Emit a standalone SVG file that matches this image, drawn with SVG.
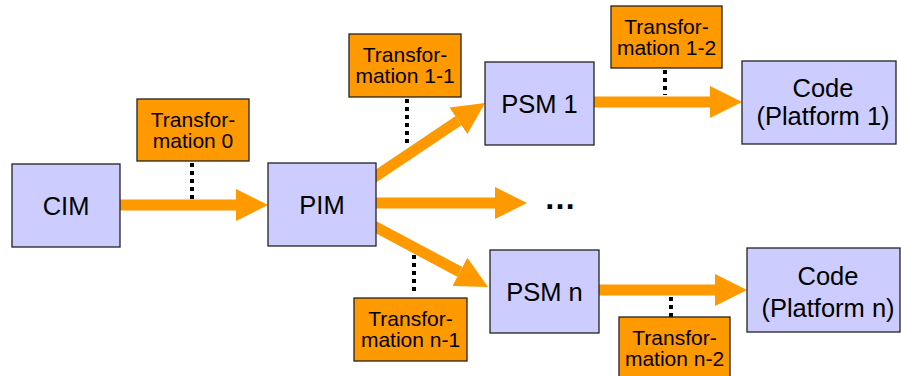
<svg xmlns="http://www.w3.org/2000/svg" width="901" height="376" viewBox="0 0 901 376">
<style>
.node rect{fill:#CCCCFF;stroke:#222;stroke-width:1.3}
.tr rect{fill:#FF9900;stroke:#222;stroke-width:1.3}
text{font-family:"Liberation Sans",Arial,sans-serif;fill:#000;text-anchor:middle}
.node text{font-size:25.5px}
.tr text{font-size:21px}
.arrow{stroke:#FF9900;stroke-width:11;fill:none;marker-end:url(#head)}
.dot{stroke:#000;stroke-width:4;stroke-dasharray:4 4;fill:none}
</style>
<defs>
<marker id="head" markerUnits="userSpaceOnUse" viewBox="0 0 32 32" refX="0" refY="16" markerWidth="32" markerHeight="32" orient="auto">
<polygon points="0,0 32,16 0,32" fill="#FF9900"/>
</marker>
</defs>
<g id="connectors">
<line class="arrow" x1="118" y1="205" x2="236" y2="205"/>
<line class="arrow" x1="370" y1="203" x2="495" y2="203"/>
<line class="arrow" x1="370" y1="180" x2="458.4" y2="120.8"/>
<line class="arrow" x1="370" y1="224" x2="459.8" y2="271.9"/>
<line class="arrow" x1="592" y1="102" x2="710" y2="102"/>
<line class="arrow" x1="597" y1="290" x2="715" y2="290"/>
<line class="dot" x1="192" y1="163" x2="192" y2="199"/>
<line class="dot" x1="407" y1="99" x2="407" y2="143"/>
<line class="dot" x1="665" y1="70" x2="665" y2="95"/>
<line class="dot" x1="414" y1="255" x2="414" y2="291"/>
<line class="dot" x1="671" y1="297" x2="671" y2="317"/>
</g>
<g id="CIM" class="node"><rect x="12" y="164" width="108" height="83"/><text x="66" y="215">CIM</text></g>
<g id="PIM" class="node"><rect x="268" y="163" width="108" height="83"/><text x="322" y="214">PIM</text></g>
<g id="PSM1" class="node"><rect x="485" y="62" width="109" height="83"/><text x="539.5" y="113">PSM 1</text></g>
<g id="PSMn" class="node"><rect x="490" y="250" width="109" height="83"/><text x="544.5" y="301">PSM n</text></g>
<g id="Code1" class="node"><rect x="742" y="61" width="154" height="83"/><text x="823" y="97">Code</text><text x="823" y="125">(Platform 1)</text></g>
<g id="Coden" class="node"><rect x="747" y="248" width="153" height="84"/><text x="828" y="285">Code</text><text x="828" y="317">(Platform n)</text></g>
<g id="T0" class="tr"><rect x="137" y="99" width="112" height="62"/><text x="193" y="127">Transfor-</text><text x="193" y="148">mation 0</text></g>
<g id="T11" class="tr"><rect x="349" y="34" width="112" height="63"/><text x="405" y="62">Transfor-</text><text x="405" y="83">mation 1-1</text></g>
<g id="T12" class="tr"><rect x="611" y="6" width="111" height="62"/><text x="666.5" y="34">Transfor-</text><text x="666.5" y="55">mation 1-2</text></g>
<g id="Tn1" class="tr"><rect x="354" y="298" width="113" height="63"/><text x="410.5" y="326">Transfor-</text><text x="410.5" y="347">mation n-1</text></g>
<g id="Tn2" class="tr"><rect x="619" y="317" width="111" height="64"/><text x="674.5" y="345">Transfor-</text><text x="674.5" y="366">mation n-2</text></g>
<g id="ellipsis"><text x="560" y="209" style="font-size:32px;font-weight:bold">…</text></g>
</svg>
